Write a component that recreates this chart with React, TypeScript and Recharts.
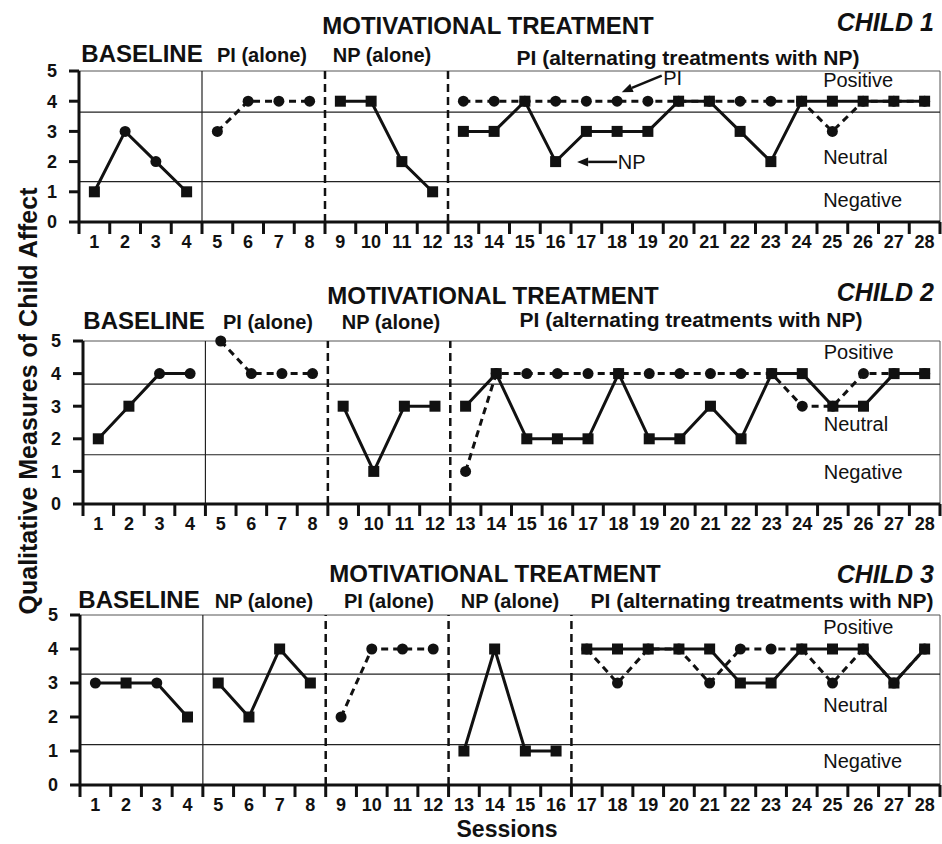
import React from 'react';
import { Line, LineChart, ReferenceDot, ReferenceLine, XAxis, YAxis } from 'recharts';

const SESSIONS = [1, 2, 3, 4, 5, 6, 7, 8, 9, 10, 11, 12, 13, 14, 15, 16, 17, 18, 19, 20, 21, 22, 23, 24, 25, 26, 27, 28];
const Y_TICKS = [0, 1, 2, 3, 4, 5];
const BOUNDS = [...SESSIONS.map((s) => s - 0.5), 28.5];
const ZONES = ['Positive', 'Neutral', 'Negative'];

// child 1
const c1Baseline = [1, 3, 2, 1];
const c1BaselineShape = ['sq', 'ci', 'ci', 'sq'];
const c1PIAlone = [3, 4, 4, 4];
const c1NPAlone = [4, 4, 2, 1];
const c1AltPI = [4, 4, 4, 4, 4, 4, 4, 4, 4, 4, 4, 4, 3, 4, 4, 4];
const c1AltNP = [3, 3, 4, 2, 3, 3, 3, 4, 4, 3, 2, 4, 4, 4, 4, 4];
const c1Cutoffs = [3.64, 1.34];
const c1ZoneY = [4.71, 2.16, 0.72];

// child 2
const c2Baseline = [2, 3, 4, 4];
const c2BaselineShape = ['sq', 'sq', 'ci', 'ci'];
const c2PIAlone = [5, 4, 4, 4];
const c2NPAlone = [3, 1, 3, 3];
const c2AltPI = [1, 4, 4, 4, 4, 4, 4, 4, 4, 4, 4, 3, 3, 4, 4, 4];
const c2AltNP = [3, 4, 2, 2, 2, 4, 2, 2, 3, 2, 4, 4, 3, 3, 4, 4];
const c2Cutoffs = [3.68, 1.51];
const c2ZoneY = [4.66, 2.45, 0.97];

// child 3
const c3Baseline = [3, 3, 3, 2];
const c3BaselineShape = ['ci', 'sq', 'ci', 'sq'];
const c3NPAlone1 = [3, 2, 4, 3];
const c3PIAlone = [2, 4, 4, 4];
const c3NPAlone2 = [1, 4, 1, 1];
const c3AltPI = [4, 3, 4, 4, 3, 4, 4, 4, 3, 4, 3, 4];
const c3AltNP = [4, 4, 4, 4, 4, 3, 3, 4, 4, 4, 3, 4];
const c3Cutoffs = [3.26, 1.19];
const c3ZoneY = [4.65, 2.35, 0.72];

const FONT = '"Liberation Sans", Arial, Helvetica, sans-serif';
const INK = '#111';

type Phase = { key: string; start: number; values: number[]; kind: 'base' | 'PI' | 'NP'; shapes?: string[] };

function buildRows(phases: Phase[]) {
  return SESSIONS.map((s) => {
    const row: Record<string, any> = { session: s };
    phases.forEach((p) => {
      const i = s - p.start;
      if (i >= 0 && i < p.values.length) {
        row[p.key] = p.values[i];
        if (p.shapes) row[p.key + 'Shape'] = p.shapes[i];
      }
    });
    return row;
  });
}

const makeDot = (p: Phase) => (props: any) => {
  const { cx, cy, index, payload } = props;
  const k = `${p.key}-${index}`;
  if (cx == null || cy == null || payload == null || payload[p.key] == null) return <g key={k} />;
  const shape = p.kind === 'PI' ? 'ci' : p.kind === 'NP' ? 'sq' : payload[p.key + 'Shape'];
  return shape === 'ci' ? (
    <circle key={k} cx={cx} cy={cy} r={5.5} fill={INK} />
  ) : (
    <rect key={k} x={cx - 5.5} y={cy - 5.5} width={11} height={11} fill={INK} />
  );
};

const Arrow = (props: any) => {
  const { x1, y1, x2, y2 } = props;
  const a = Math.atan2(y2 - y1, x2 - x1);
  const L = 11;
  const W = 4.5;
  const bx = x2 - L * Math.cos(a);
  const by = y2 - L * Math.sin(a);
  const px = -Math.sin(a) * W;
  const py = Math.cos(a) * W;
  return (
    <g>
      <line x1={x1} y1={y1} x2={bx} y2={by} stroke={INK} strokeWidth={2.5} />
      <polygon points={`${x2},${y2} ${bx + px},${by + py} ${bx - px},${by - py}`} fill={INK} />
    </g>
  );
};

const textAt = (txt: string, size: number, weight = 400) => (props: any) => (
  <text x={props.cx} y={props.cy} dy="0.35em" fontFamily={FONT} fontSize={size} fontWeight={weight} fill={INK}>
    {txt}
  </text>
);

// boundary axis only needs the tick lines, so its labels are empty groups
const NoLabel = () => <g />;

type PanelProps = {
  top: number;
  height: number;
  mTop: number;
  mBottom: number;
  yWidth: number;
  phases: Phase[];
  cutoffs: number[];
  zoneY: number[];
  dashed: number[];
  annotate?: boolean;
};

function Panel({ top, height, mTop, mBottom, yWidth, phases, cutoffs, zoneY, dashed, annotate }: PanelProps) {
  const rows = buildRows(phases);
  const axisStyle = { stroke: INK, strokeWidth: 3 };
  const tickFont = { fill: INK, fontSize: 18, fontWeight: 700, fontFamily: FONT };
  return (
    <div style={{ position: 'absolute', left: 0, top }}>
      <LineChart width={942} height={height} data={rows} margin={{ top: mTop, right: 2, bottom: mBottom, left: 0 }}>
        <XAxis xAxisId="b" type="number" dataKey="session" domain={[0.5, 28.5]} ticks={BOUNDS} interval={0}
          tick={NoLabel} tickSize={12} height={1} axisLine={axisStyle} tickLine={axisStyle} />
        <XAxis xAxisId="x" type="number" dataKey="session" domain={[0.5, 28.5]} ticks={SESSIONS} interval={0}
          height={1} axisLine={false} tickLine={false} tickSize={0} tickMargin={12} tick={tickFont} />
        <YAxis type="number" domain={[0, 5]} ticks={Y_TICKS} interval={0} width={yWidth} tickSize={10} tickMargin={12}
          axisLine={axisStyle} tickLine={axisStyle} tick={tickFont} />

        <ReferenceLine xAxisId="x" y={5} stroke="#555" strokeWidth={1} />
        <ReferenceLine xAxisId="x" x={28.5} stroke="#555" strokeWidth={1} />
        {cutoffs.map((c) => (
          <ReferenceLine key={`c${c}`} xAxisId="x" y={c} stroke="#222" strokeWidth={1.2} />
        ))}
        <ReferenceLine xAxisId="x" x={4.5} stroke="#222" strokeWidth={1.2} />
        {dashed.map((d) => (
          <ReferenceLine key={`d${d}`} xAxisId="x" x={d} stroke={INK} strokeWidth={2.5} strokeDasharray="8 5" />
        ))}
        {ZONES.map((z, i) => (
          <ReferenceDot key={z} xAxisId="x" x={24.7} y={zoneY[i]} r={0} shape={textAt(z, 20)} />
        ))}

        {annotate && (
          <>
            <ReferenceLine xAxisId="x" segment={[{ x: 19.45, y: 4.85 }, { x: 18.15, y: 4.3 }]} shape={Arrow} />
            <ReferenceDot xAxisId="x" x={19.5} y={4.77} r={0} shape={textAt('PI', 20)} />
            <ReferenceLine xAxisId="x" segment={[{ x: 18.0, y: 1.99 }, { x: 16.7, y: 1.99 }]} shape={Arrow} />
            <ReferenceDot xAxisId="x" x={18.02} y={1.99} r={0} shape={textAt('NP', 20)} />
          </>
        )}

        {phases.map((p) => (
          <Line
            key={p.key}
            xAxisId="x"
            dataKey={p.key}
            stroke={INK}
            strokeWidth={3}
            strokeDasharray={p.kind === 'PI' ? '7 5' : undefined}
            dot={makeDot(p)}
            activeDot={false}
            connectNulls={false}
            isAnimationActive={false}
          />
        ))}
      </LineChart>
    </div>
  );
}

const child1: Phase[] = [
  { key: 'bl', start: 1, values: c1Baseline, kind: 'base', shapes: c1BaselineShape },
  { key: 'pa', start: 5, values: c1PIAlone, kind: 'PI' },
  { key: 'na', start: 9, values: c1NPAlone, kind: 'NP' },
  { key: 'pi', start: 13, values: c1AltPI, kind: 'PI' },
  { key: 'np', start: 13, values: c1AltNP, kind: 'NP' },
];
const child2: Phase[] = [
  { key: 'bl', start: 1, values: c2Baseline, kind: 'base', shapes: c2BaselineShape },
  { key: 'pa', start: 5, values: c2PIAlone, kind: 'PI' },
  { key: 'na', start: 9, values: c2NPAlone, kind: 'NP' },
  { key: 'pi', start: 13, values: c2AltPI, kind: 'PI' },
  { key: 'np', start: 13, values: c2AltNP, kind: 'NP' },
];
const child3: Phase[] = [
  { key: 'bl', start: 1, values: c3Baseline, kind: 'base', shapes: c3BaselineShape },
  { key: 'na', start: 5, values: c3NPAlone1, kind: 'NP' },
  { key: 'pa', start: 9, values: c3PIAlone, kind: 'PI' },
  { key: 'nb', start: 13, values: c3NPAlone2, kind: 'NP' },
  { key: 'pi', start: 17, values: c3AltPI, kind: 'PI' },
  { key: 'np', start: 17, values: c3AltNP, kind: 'NP' },
];

type Title = { text: string; x: number; y: number; size: number; italic?: boolean; right?: boolean };

const titles: Title[] = [
  { text: 'MOTIVATIONAL TREATMENT', x: 488, y: 26, size: 24 },
  { text: 'CHILD 1', x: 934, y: 22, size: 25, italic: true, right: true },
  { text: 'BASELINE', x: 142, y: 54, size: 24 },
  { text: 'PI (alone)', x: 262, y: 55, size: 20 },
  { text: 'NP (alone)', x: 382, y: 55, size: 20 },
  { text: 'PI (alternating treatments with NP)', x: 688, y: 57, size: 21 },

  { text: 'MOTIVATIONAL TREATMENT', x: 493, y: 296, size: 24 },
  { text: 'CHILD 2', x: 934, y: 292, size: 25, italic: true, right: true },
  { text: 'BASELINE', x: 144, y: 321, size: 24 },
  { text: 'PI (alone)', x: 268, y: 322, size: 20 },
  { text: 'NP (alone)', x: 391, y: 322, size: 20 },
  { text: 'PI (alternating treatments with NP)', x: 691, y: 319, size: 21 },

  { text: 'MOTIVATIONAL TREATMENT', x: 495, y: 574, size: 24 },
  { text: 'CHILD 3', x: 934, y: 574, size: 25, italic: true, right: true },
  { text: 'BASELINE', x: 139, y: 600, size: 24 },
  { text: 'NP (alone)', x: 264, y: 601, size: 20 },
  { text: 'PI (alone)', x: 389, y: 601, size: 20 },
  { text: 'NP (alone)', x: 510, y: 601, size: 20 },
  { text: 'PI (alternating treatments with NP)', x: 762, y: 600, size: 21 },

  { text: 'Sessions', x: 507, y: 829, size: 23 },
];

export default function App() {
  return (
    <div style={{ position: 'absolute', left: 0, top: 0, width: 942, height: 844, background: '#fff', overflow: 'hidden', fontFamily: FONT }}>
      <Panel top={0} height={260} mTop={71} mBottom={36} yWidth={79} phases={child1}
        cutoffs={c1Cutoffs} zoneY={c1ZoneY} dashed={[8.5, 12.5]} annotate />
      <Panel top={260} height={290} mTop={81} mBottom={44} yWidth={83} phases={child2}
        cutoffs={c2Cutoffs} zoneY={c2ZoneY} dashed={[8.5, 12.5]} />
      <Panel top={550} height={294} mTop={65} mBottom={57} yWidth={80} phases={child3}
        cutoffs={c3Cutoffs} zoneY={c3ZoneY} dashed={[8.5, 12.5, 16.5]} />

      {titles.map((t, i) => (
        <div
          key={i}
          style={{
            position: 'absolute',
            left: t.x,
            top: t.y,
            transform: t.right ? 'translate(-100%, -50%)' : 'translate(-50%, -50%)',
            whiteSpace: 'nowrap',
            fontSize: t.size,
            fontWeight: 700,
            fontStyle: t.italic ? 'italic' : 'normal',
            lineHeight: 1,
            color: INK,
          }}
        >
          {t.text}
        </div>
      ))}

      <div
        style={{
          position: 'absolute',
          left: 28,
          top: 401,
          transform: 'translate(-50%, -50%) rotate(-90deg)',
          whiteSpace: 'nowrap',
          fontSize: 25,
          fontWeight: 700,
          lineHeight: 1,
          color: INK,
        }}
      >
        Qualitative Measures of Child Affect
      </div>
    </div>
  );
}
